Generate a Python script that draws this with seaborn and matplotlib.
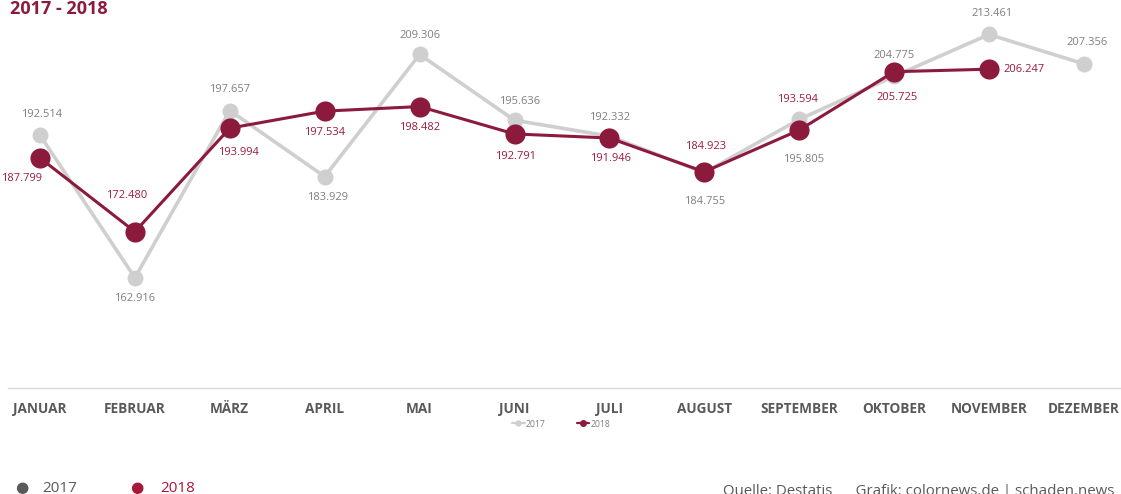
import pandas as pd
import numpy as np
import matplotlib.pyplot as plt
import seaborn as sns

monate = ["JANUAR", "FEBRUAR", "MÄRZ", "APRIL", "MAI", "JUNI", "JULI",
          "AUGUST", "SEPTEMBER", "OKTOBER", "NOVEMBER", "DEZEMBER"]
werte_2017 = [192.514, 162.916, 197.657, 183.929, 209.306, 195.636, 192.332,
              184.755, 195.805, 204.775, 213.461, 207.356]
werte_2018 = [187.799, 172.480, 193.994, 197.534, 198.482, 192.791, 191.946,
              184.923, 193.594, 205.725, 206.247, np.nan]

# label placement in pixels (dx right, dy down) relative to the point, plus alignment
lage_2017 = [(2, -21, "center"), (0, 21, "center"), (0, -21, "center"), (3, 21, "center"),
             (0, -19, "center"), (5, -19, "center"), (0, -19, "center"), (0, 29, "center"),
             (4, 40, "center"), (0, -21, "center"), (3, -21, "center"), (3, -21, "center")]
lage_2018 = [(2, 21, "right"), (-8, -36, "center"), (9, 24, "center"), (0, 21, "center"),
             (0, 21, "center"), (1, 23, "center"), (1, 20, "center"), (1, -25, "center"),
             (-2, -31, "center"), (3, 26, "center"), (14, 0, "left"), None]

grau = "#cfcfcf"
rot = "#8c1a3c"
text_grau = "#7f7f7f"
text_rot = "#9b1b3f"

sns.set_style("white")
plt.rcParams["font.family"] = ["Open Sans", "DejaVu Sans"]

df = pd.DataFrame({"x": np.arange(12), "y2017": werte_2017, "y2018": werte_2018})

fig = plt.figure(figsize=(11.21, 4.94), dpi=100)
ax = fig.add_axes([8 / 1121, (494 - 388) / 494, 1112 / 1121, 385 / 494])

sns.lineplot(data=df, x="x", y="y2017", color=grau, linewidth=2.6, marker="o",
             markersize=11.5, markeredgewidth=0, ax=ax)
sns.lineplot(data=df.dropna(), x="x", y="y2018", color=rot, linewidth=2.2, marker="o",
             markersize=14.5, markeredgewidth=0, ax=ax)

ax.set_xlim((8 - 40) / 94.9, (1120 - 40) / 94.9)
ax.set_ylim(140, 220)
ax.set_yticks([])
ax.set_xticks(range(12))
ax.set_xticklabels(monate, fontsize=9.8, fontweight="bold", color="#595959")
ax.tick_params(axis="x", length=0, pad=10)
ax.set_xlabel("")
ax.set_ylabel("")
for s in ["top", "left", "right"]:
    ax.spines[s].set_visible(False)
ax.spines["bottom"].set_color("#d9d9d9")
ax.spines["bottom"].set_linewidth(1)


def beschriften(werte, lagen, farbe):
    for i, (v, lage) in enumerate(zip(werte, lagen)):
        if lage is None or np.isnan(v):
            continue
        dx, dy, ha = lage
        ax.annotate(f"{v:.3f}", (i, v), xytext=(dx, -dy), textcoords="offset pixels",
                    ha=ha, va="center", fontsize=8, color=farbe, annotation_clip=False)


beschriften(werte_2017, lage_2017, text_grau)
beschriften(werte_2018, lage_2018, text_rot)

fig.text(10 / 1121, 1 - 9 / 494, "2017 - 2018", fontsize=13, fontweight="bold",
         color=rot, ha="left", va="center")

# small legend under the axis
leg = ax.legend(handles=[
    plt.Line2D([], [], color=grau, marker="o", markersize=3.5, linewidth=1.6),
    plt.Line2D([], [], color=rot, marker="o", markersize=4, linewidth=1.6)],
    labels=["2017", "2018"], ncol=2, frameon=False, fontsize=6.2,
    loc="center", handlelength=1.5, handletextpad=0.1, columnspacing=3.6)
for t in leg.get_texts():
    t.set_color("#7f7f7f")
leg.set_bbox_to_anchor((561 / 1121, 1 - 424 / 494), transform=fig.transFigure)

# bottom legend
fig.text(22 / 1121, 1 - 487 / 494, "●", fontsize=11, color="#595959", ha="center", va="center",
         family=["DejaVu Sans"])
fig.text(42 / 1121, 1 - 488 / 494, "2017", fontsize=11, color="#595959", ha="left", va="center")
fig.text(137 / 1121, 1 - 487 / 494, "●", fontsize=11, color="#a6173a", ha="center", va="center",
         family=["DejaVu Sans"])
fig.text(160 / 1121, 1 - 488 / 494, "2018", fontsize=11, color="#a6173a", ha="left", va="center")

fig.text(723 / 1121, 1 - 484 / 494, "Quelle: Destatis      Grafik: colornews.de | schaden.news",
         fontsize=10.8, color="#595959", ha="left", va="top")

fig.savefig("out.png", dpi=100)
